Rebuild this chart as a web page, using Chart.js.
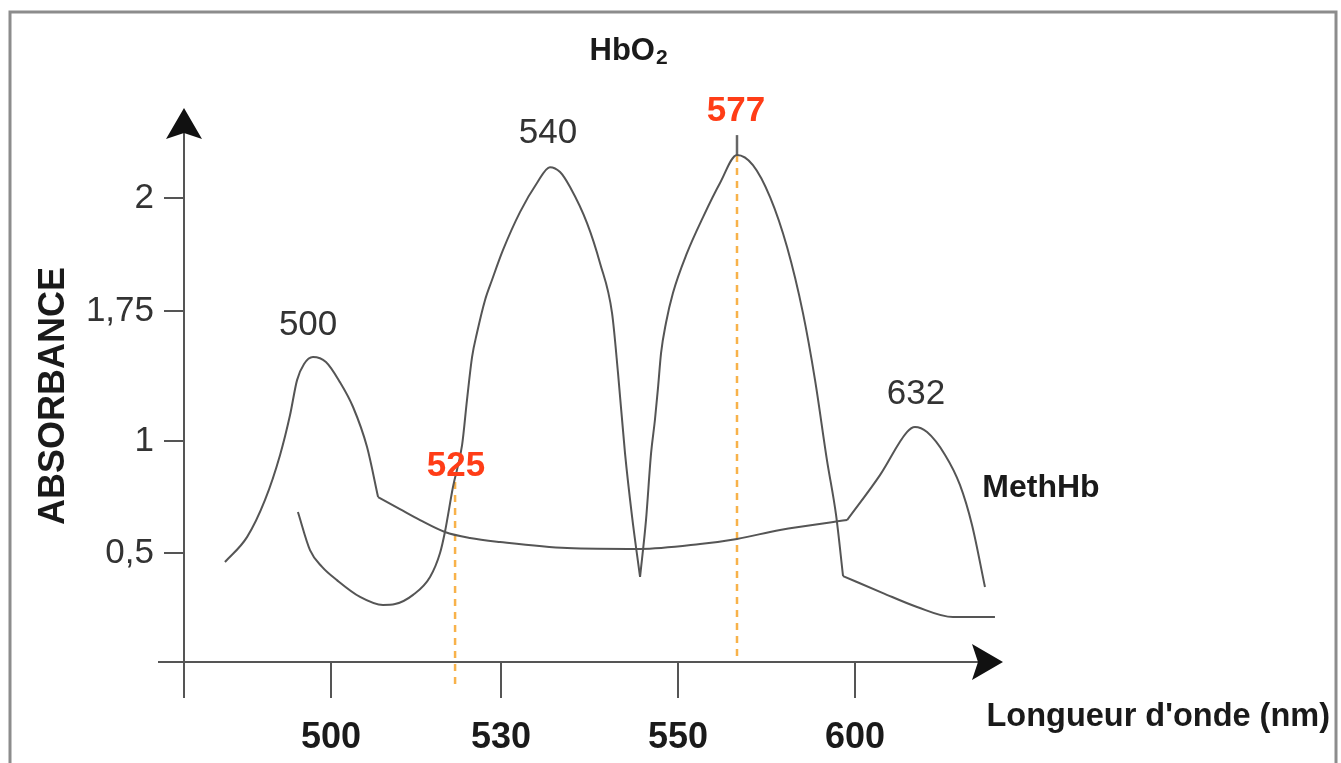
<!DOCTYPE html>
<html>
<head>
<meta charset="utf-8">
<script src="https://cdn.jsdelivr.net/npm/chart.js@4/dist/chart.umd.min.js"></script>
<style>
  html, body { margin: 0; padding: 0; background: #fff; }
  canvas { display: block; }
</style>
</head>
<body>
<canvas id="spectre" width="1341" height="763"></canvas>
<script>
// Axe x : position sur le schéma (les graduations 500/530/550/600 ne sont pas à l'échelle)
const xTickPos = [1, 1.971, 2.983, 3.994];
const xTickLabels = ['500', '530', '550', '600'];
const yTickPos = [0.5, 1, 1.58, 2.085];
const yTickLabels = ['0,5', '1', '1,75', '2'];

// courbe MethHb (pics 500 et 632) ; methBreaks = points anguleux
const methX = [0.394, 0.520, 0.623, 0.709, 0.766, 0.806, 0.846, 0.897, 0.971, 1.051, 1.126, 1.206, 1.269,
  1.394, 1.509, 1.651, 1.794, 1.966, 2.349, 2.766, 3.109, 3.320, 3.566, 3.949,
  4.137, 4.291, 4.337, 4.406, 4.509, 4.594, 4.663, 4.737];
const methY = [0.460, 0.571, 0.737, 0.938, 1.116, 1.272, 1.344, 1.375, 1.353, 1.263, 1.152, 0.973, 0.750,
  0.696, 0.647, 0.594, 0.567, 0.549, 0.522, 0.518, 0.540, 0.563, 0.603, 0.647,
  0.848, 1.040, 1.063, 1.040, 0.938, 0.804, 0.625, 0.348];
const methBreaks = [12, 23];

// courbe HbO2 (pics 540 et 577)
const hbo2X = [0.811, 0.880, 0.949, 1.034, 1.166, 1.297, 1.366, 1.469, 1.566, 1.623, 1.651, 1.697, 1.749, 1.777, 1.806,
  1.834, 1.880, 1.920, 1.983, 2.080, 2.177, 2.251, 2.309, 2.366, 2.463, 2.537, 2.606, 2.640, 2.680, 2.720, 2.766,
  2.800, 2.829, 2.851, 2.869, 2.886, 2.914, 2.954, 3.034, 3.126, 3.223, 3.320, 3.411, 3.509, 3.606, 3.697,
  3.766, 3.834, 3.886, 3.926,
  4.154, 4.349, 4.554, 4.794];
const hbo2Y = [0.683, 0.513, 0.438, 0.379, 0.304, 0.268, 0.272, 0.313, 0.393, 0.500, 0.594, 0.795, 0.982, 1.183, 1.375,
  1.482, 1.629, 1.719, 1.853, 2.022, 2.152, 2.223, 2.201, 2.134, 1.973, 1.795, 1.571, 1.304, 0.946, 0.665, 0.393,
  0.647, 0.946, 1.094, 1.241, 1.393, 1.527, 1.661, 1.839, 2.000, 2.152, 2.277, 2.232, 2.089, 1.866, 1.571,
  1.272, 0.915, 0.670, 0.397,
  0.321, 0.259, 0.214, 0.214];
const hbo2Breaks = [30, 49];

// repères 525 et 577 (pointillés orange)
const markX = [1.709, 3.320];
const markTop = [0.817, 2.277];
const markBottom = [-0.089, 0.022];
const markText = ['525', '577'];
const markTextX = [1.714, 3.314];
const markTextY = [0.888, 2.473];

// étiquettes des pics
const peakText = ['500', '540', '632'];
const peakX = [0.869, 2.240, 4.343];
const peakY = [1.518, 2.375, 1.210];

const FONT = '"Liberation Sans", Arial, sans-serif';
const INK = '#555';

// découpe une courbe aux points anguleux, chaque morceau partage le point de cassure
function pieces(xs, ys, breaks) {
  const cuts = [0].concat(breaks, [xs.length - 1]);
  const out = [];
  for (let k = 0; k < cuts.length - 1; k++) {
    const pts = [];
    for (let i = cuts[k]; i <= cuts[k + 1]; i++) pts.push({ x: xs[i], y: ys[i] });
    out.push(pts);
  }
  return out;
}

function arrowHead(ctx, tipX, tipY, dir) {
  ctx.save();
  ctx.translate(tipX, tipY);
  if (dir === 'right') ctx.rotate(Math.PI / 2);
  ctx.beginPath();
  ctx.moveTo(0, 0);
  ctx.lineTo(18, 31);
  ctx.lineTo(0, 25);
  ctx.lineTo(-18, 31);
  ctx.closePath();
  ctx.fillStyle = '#111';
  ctx.fill();
  ctx.restore();
}

const decor = {
  id: 'decor',
  beforeDraw(chart) {
    const ctx = chart.ctx;
    ctx.save();
    ctx.fillStyle = '#fff';
    ctx.fillRect(0, 0, chart.width, chart.height);
    ctx.strokeStyle = '#8c8c8c';
    ctx.lineWidth = 3;
    ctx.strokeRect(10, 12, 1326, 820);
    ctx.restore();
  },
  beforeDatasetsDraw(chart) {
    const ctx = chart.ctx;
    const a = chart.chartArea;
    ctx.save();
    ctx.strokeStyle = INK;
    ctx.lineWidth = 2;
    ctx.beginPath();
    ctx.moveTo(a.left, a.top + 20);
    ctx.lineTo(a.left, a.bottom + 36);
    ctx.moveTo(a.left - 26, a.bottom);
    ctx.lineTo(a.right - 20, a.bottom);
    ctx.stroke();
    arrowHead(ctx, a.left, a.top, 'up');
    arrowHead(ctx, a.right, a.bottom, 'right');
    ctx.restore();
  },
  afterDraw(chart) {
    const ctx = chart.ctx;
    const xs = chart.scales.x, ys = chart.scales.y;
    ctx.save();
    ctx.textAlign = 'center';
    ctx.textBaseline = 'middle';

    ctx.fillStyle = '#333';
    ctx.font = '35px ' + FONT;
    peakText.forEach((t, i) => {
      ctx.fillText(t, xs.getPixelForValue(peakX[i]), ys.getPixelForValue(peakY[i]));
    });

    ctx.fillStyle = '#ff3d17';
    ctx.font = 'bold 35px ' + FONT;
    markText.forEach((t, i) => {
      ctx.fillText(t, xs.getPixelForValue(markTextX[i]), ys.getPixelForValue(markTextY[i]));
    });

    // noms des courbes
    ctx.fillStyle = '#1a1a1a';
    const hx = xs.getPixelForValue(2.691) + 28, hy = ys.getPixelForValue(2.741);
    ctx.textAlign = 'right';
    ctx.font = 'bold 31px ' + FONT;
    ctx.fillText('HbO', hx, hy);
    ctx.textAlign = 'left';
    ctx.font = 'bold 21px ' + FONT;
    ctx.fillText('2', hx + 1, hy + 7);
    ctx.textAlign = 'center';
    ctx.font = 'bold 32px ' + FONT;
    ctx.fillText('MethHb', xs.getPixelForValue(5.057), ys.getPixelForValue(0.790));

    // titres des axes
    ctx.font = 'bold 32.5px ' + FONT;
    ctx.textAlign = 'right';
    ctx.fillText("Longueur d'onde (nm)", 1330, 717);
    ctx.save();
    ctx.translate(54, 396);
    ctx.rotate(-Math.PI / 2);
    ctx.textAlign = 'center';
    ctx.font = 'bold 36px ' + FONT;
    ctx.fillText('ABSORBANCE', 0, 0);
    ctx.restore();
    ctx.restore();
  }
};

const curveStyle = { borderColor: INK, borderWidth: 2, pointRadius: 0, cubicInterpolationMode: 'monotone', fill: false };
const markStyle = { borderColor: '#f8b24a', borderWidth: 2.5, borderDash: [7, 6], pointRadius: 0, fill: false, clip: false };

const curveSets = [];
pieces(methX, methY, methBreaks).forEach(p => curveSets.push(Object.assign({ label: 'MethHb', data: p }, curveStyle)));
pieces(hbo2X, hbo2Y, hbo2Breaks).forEach(p => curveSets.push(Object.assign({ label: 'HbO2', data: p }, curveStyle)));

new Chart(document.getElementById('spectre'), {
  type: 'line',
  data: {
    datasets: curveSets.concat([
      Object.assign({ label: '525', data: [{ x: markX[0], y: markTop[0] }, { x: markX[0], y: markBottom[0] }] }, markStyle),
      Object.assign({ label: '577', data: [{ x: markX[1], y: markTop[1] }, { x: markX[1], y: markBottom[1] }] }, markStyle),
      { label: 'repère', data: [{ x: markX[1], y: markTop[1] }, { x: markX[1], y: 2.366 }],
        borderColor: '#666', borderWidth: 2.5, pointRadius: 0, clip: false }
    ])
  },
  options: {
    responsive: false,
    animation: false,
    layout: { padding: { left: 0, top: 108, right: 338, bottom: 0 } },
    plugins: { legend: { display: false }, tooltip: { enabled: false } },
    scales: {
      x: {
        type: 'linear',
        min: 0.16,
        max: 4.84,
        afterBuildTicks: (s) => { s.ticks = xTickPos.map(v => ({ value: v })); },
        afterFit: (s) => { s.height = 101; },
        border: { display: false },
        grid: { drawOnChartArea: false, tickLength: 36, color: INK, lineWidth: 2 },
        ticks: {
          autoSkip: false, maxRotation: 0,
          padding: 18,
          color: '#1a1a1a',
          font: { family: FONT, size: 36, weight: 'bold' },
          callback: (v, i) => xTickLabels[i]
        }
      },
      y: {
        type: 'linear',
        min: 0.0134,
        max: 2.487,
        afterBuildTicks: (s) => { s.ticks = yTickPos.map(v => ({ value: v })); },
        afterFit: (s) => { s.width = 184; },
        border: { display: false },
        grid: { drawOnChartArea: false, tickLength: 20, color: INK, lineWidth: 2 },
        ticks: {
          autoSkip: false,
          padding: 10,
          color: '#333',
          font: { family: FONT, size: 35 },
          callback: (v, i) => yTickLabels[i]
        }
      }
    }
  },
  plugins: [decor]
});
</script>
</body>
</html>
